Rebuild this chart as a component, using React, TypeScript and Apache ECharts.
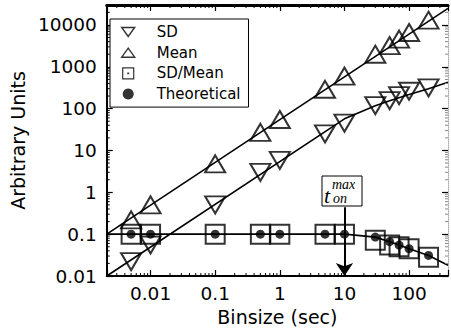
import React, { useEffect, useRef } from 'react';
import * as echarts from 'echarts';

// ---- data ----
const BINSIZE = [0.005, 0.01, 0.1, 0.5, 1, 5, 10, 30, 50, 70, 100, 200];
const SD = [0.022, 0.055, 0.5, 3.0, 5.8, 25, 45, 118, 155, 205, 260, 313];
const MEAN = [0.22, 0.5, 4.8, 27, 55, 290, 600, 2000, 3200, 4600, 6600, 13000];
const SD_OVER_MEAN = [0.1, 0.1, 0.1, 0.1, 0.1, 0.1, 0.1, 0.072, 0.055, 0.05, 0.045, 0.028];
const THEORETICAL = [0.1, 0.1, 0.1, 0.1, 0.1, 0.1, 0.1, 0.085, 0.066, 0.055, 0.045, 0.031];

// fitted / theory curves
const MEAN_FIT_X = [0.0021, 400];
const MEAN_FIT_Y = [0.1, 25000];
const SD_FIT_X = [0.0021, 10, 30, 50, 100, 200, 400];
const SD_FIT_Y = [0.01, 57, 117, 155, 217, 300, 430];
const THEORY_X = [0.0021, 10, 30, 50, 70, 100, 200, 400];
const THEORY_Y = [0.1, 0.1, 0.085, 0.066, 0.055, 0.045, 0.031, 0.018];

const T_ON_MAX = 10;
const ARROW_TOP = 0.44;

// axes
const X_MIN = 0.0021;
const X_MAX = 400;
const Y_MIN = 0.01;
const Y_MAX = 30000;
const X_TICK_LABELS = ['0.01', '0.1', '1', '10', '100'];
const X_FIRST_DECADE = -2;
const Y_TICK_LABELS = ['0.01', '0.1', '1', '10', '100', '1000', '10000'];
const Y_FIRST_DECADE = -2;
const MINOR_MULTIPLIERS = [2, 3, 4, 5, 6, 7, 8, 9];
const X_DECADES = [-3, -2, -1, 0, 1, 2];
const Y_DECADES = [-2, -1, 0, 1, 2, 3, 4];

const zip = (xs: number[], ys: number[]) => xs.map((x, i) => [x, ys[i]]);

function decadeLabel(v: number, labels: string[], first: number) {
  const l = Math.log10(v);
  const r = Math.round(l);
  if (Math.abs(l - r) > 1e-6) return '';
  return labels[r - first] ?? '';
}

function minorTickData() {
  const out: number[][] = [];
  X_DECADES.forEach((d) => {
    MINOR_MULTIPLIERS.forEach((m) => {
      const v = m * Math.pow(10, d);
      if (v > X_MIN && v < X_MAX) {
        out.push([v, Y_MIN, 0]);
        out.push([v, Y_MAX, 1]);
      }
    });
  });
  Y_DECADES.forEach((d) => {
    MINOR_MULTIPLIERS.forEach((m) => {
      const v = m * Math.pow(10, d);
      if (v > Y_MIN && v < Y_MAX) {
        out.push([X_MIN, v, 2]);
        out.push([X_MAX, v, 3]);
      }
    });
  });
  return out;
}

const FONT = 'DejaVu Sans';
const hollow = { color: 'rgba(0,0,0,0)', borderColor: '#000', borderWidth: 2 };

export default function App() {
  const ref = useRef<HTMLDivElement>(null);
  useEffect(() => {
    if (!ref.current) return;
    const chart = echarts.init(ref.current, undefined, { renderer: 'svg' });
    const axisCommon = {
      type: 'log' as const,
      logBase: 10,
      splitLine: { show: false },
    };
    chart.setOption({
      animation: false,
      backgroundColor: '#fff',
      grid: { left: 97, right: 1, top: 5, bottom: 58, containLabel: false },
      xAxis: [
        {
          ...axisCommon,
          min: X_MIN,
          max: X_MAX,
          position: 'bottom',
          name: 'Binsize (sec)',
          nameLocation: 'middle',
          nameGap: 30,
          nameTextStyle: { fontFamily: FONT, fontSize: 19, color: '#000' },
          axisLine: { lineStyle: { color: '#000', width: 2 } },
          axisTick: { inside: true, length: 6, lineStyle: { color: '#000', width: 1.2 } },
          axisLabel: {
            margin: 8,
            fontFamily: FONT,
            fontSize: 18.5,
            color: '#000',
            interval: 0,
            formatter: (v: number) => decadeLabel(v, X_TICK_LABELS, X_FIRST_DECADE),
          },
        },
        {
          ...axisCommon,
          min: X_MIN,
          max: X_MAX,
          position: 'top',
          axisLine: { lineStyle: { color: '#000', width: 3 } },
          axisTick: { inside: true, length: 6, lineStyle: { color: '#000', width: 1.2 } },
          axisLabel: { show: false },
        },
      ],
      yAxis: [
        {
          ...axisCommon,
          min: Y_MIN,
          max: Y_MAX,
          position: 'left',
          name: 'Arbitrary Units',
          nameLocation: 'middle',
          nameGap: 71,
          nameTextStyle: { fontFamily: FONT, fontSize: 19, color: '#000' },
          axisLine: { lineStyle: { color: '#000', width: 2 } },
          axisTick: { inside: true, length: 6, lineStyle: { color: '#000', width: 1.2 } },
          axisLabel: {
            margin: 10,
            fontFamily: FONT,
            fontSize: 18.5,
            color: '#000',
            interval: 0,
            formatter: (v: number) => decadeLabel(v, Y_TICK_LABELS, Y_FIRST_DECADE),
          },
        },
        {
          ...axisCommon,
          min: Y_MIN,
          max: Y_MAX,
          position: 'right',
          axisLine: { lineStyle: { color: '#aaa', width: 1, type: 'dotted' } },
          axisTick: { inside: true, length: 6, lineStyle: { color: '#000', width: 1.2 } },
          axisLabel: { show: false },
        },
      ],
      legend: {
        orient: 'vertical',
        left: 110,
        top: 19,
        selectedMode: false,
        itemWidth: 13,
        itemHeight: 11,
        itemGap: 4.7,
        padding: [5, 8, 5, 11],
        borderColor: '#000',
        borderWidth: 1,
        backgroundColor: '#fff',
        textStyle: { fontFamily: FONT, fontSize: 15, color: '#000', lineHeight: 16, padding: [0, 0, 0, 17] },
        data: [
          {
            name: 'SD',
            icon: 'path://M0,0 L13,0 L6.5,9 Z',
            itemStyle: { color: '#fff', borderColor: '#000', borderWidth: 1.4 },
          },
          {
            name: 'Mean',
            icon: 'path://M6.5,0 L13,9 L0,9 Z',
            itemStyle: { color: '#fff', borderColor: '#000', borderWidth: 1.4 },
          },
          {
            name: 'SD/Mean',
            icon: 'path://M0,0 H9 V9 H0 Z M4.2,4.2 H4.8 V4.8 H4.2 Z',
            itemStyle: { color: '#fff', borderColor: '#000', borderWidth: 1.2 },
          },
          {
            name: 'Theoretical',
            icon: 'circle',
            itemStyle: { color: '#000', borderColor: '#000', borderWidth: 0 },
          },
        ],
      },
      series: [
        {
          name: 'meanFit',
          type: 'line',
          data: zip(MEAN_FIT_X, MEAN_FIT_Y),
          showSymbol: false,
          lineStyle: { color: '#000', width: 1.6 },
          z: 2,
        },
        {
          name: 'sdFit',
          type: 'line',
          data: zip(SD_FIT_X, SD_FIT_Y),
          showSymbol: false,
          lineStyle: { color: '#000', width: 1.6 },
          z: 2,
        },
        {
          name: 'theoryFit',
          type: 'line',
          data: zip(THEORY_X, THEORY_Y),
          showSymbol: false,
          lineStyle: { color: '#000', width: 1.6 },
          z: 2,
          markLine: {
            silent: true,
            symbol: ['none', 'arrow'],
            symbolSize: 13,
            label: { show: false },
            lineStyle: { color: '#000', width: 2, type: 'solid' },
            data: [[{ coord: [T_ON_MAX, ARROW_TOP] }, { coord: [T_ON_MAX, Y_MIN] }]],
          },
        },
        {
          name: 'SD',
          type: 'scatter',
          data: zip(BINSIZE, SD),
          symbol: 'triangle',
          symbolRotate: 180,
          symbolSize: [20, 17],
          itemStyle: hollow,
          z: 3,
        },
        {
          name: 'Mean',
          type: 'scatter',
          data: zip(BINSIZE, MEAN),
          symbol: 'triangle',
          symbolSize: [20, 17],
          itemStyle: hollow,
          z: 3,
        },
        {
          name: 'SD/Mean',
          type: 'scatter',
          data: zip(BINSIZE, SD_OVER_MEAN),
          symbol: 'rect',
          symbolSize: 19,
          itemStyle: hollow,
          z: 3,
        },
        {
          name: 'Theoretical',
          type: 'scatter',
          data: zip(BINSIZE, THEORETICAL),
          symbol: 'circle',
          symbolSize: 9,
          itemStyle: { color: '#000' },
          z: 4,
        },
        {
          name: 'minorTicks',
          type: 'custom',
          silent: true,
          clip: false,
          dimensions: ['x', 'y', 'k'],
          encode: { x: 0, y: 1 },
          data: minorTickData(),
          renderItem: (params: any, api: any) => {
            const p = api.coord([api.value(0), api.value(1)]);
            const k = api.value(2);
            const L = 3;
            let x2 = p[0];
            let y2 = p[1];
            if (k === 0) y2 -= L;
            else if (k === 1) y2 += L;
            else if (k === 2) x2 += L;
            else x2 -= L;
            return {
              type: 'line',
              shape: { x1: p[0], y1: p[1], x2, y2 },
              style: { stroke: k === 3 ? '#888' : '#000', lineWidth: 1 },
            };
          },
          z: 5,
        },
      ],
      graphic: [
        {
          type: 'rect',
          shape: { x: 322, y: 176, width: 40, height: 30 },
          style: { fill: '#fff', stroke: '#000', lineWidth: 1 },
          z: 100,
        },
        {
          type: 'text',
          x: 324,
          y: 206,
          style: {
            text: 't',
            fontFamily: 'Liberation Serif',
            fontStyle: 'italic',
            fontSize: 22,
            fill: '#000',
            verticalAlign: 'bottom',
          },
          z: 101,
        },
        {
          type: 'text',
          x: 332,
          y: 191,
          style: {
            text: 'max',
            fontFamily: 'Liberation Serif',
            fontStyle: 'italic',
            fontSize: 14,
            fill: '#000',
            verticalAlign: 'bottom',
          },
          z: 101,
        },
        {
          type: 'text',
          x: 333,
          y: 205,
          style: {
            text: 'on',
            fontFamily: 'Liberation Serif',
            fontStyle: 'italic',
            fontSize: 14,
            fill: '#000',
            verticalAlign: 'bottom',
          },
          z: 101,
        },
      ],
    });
    return () => chart.dispose();
  }, []);
  return (
    <div
      ref={ref}
      style={{ position: 'fixed', left: 0, top: 0, width: 451, height: 334, background: '#fff' }}
    />
  );
}
